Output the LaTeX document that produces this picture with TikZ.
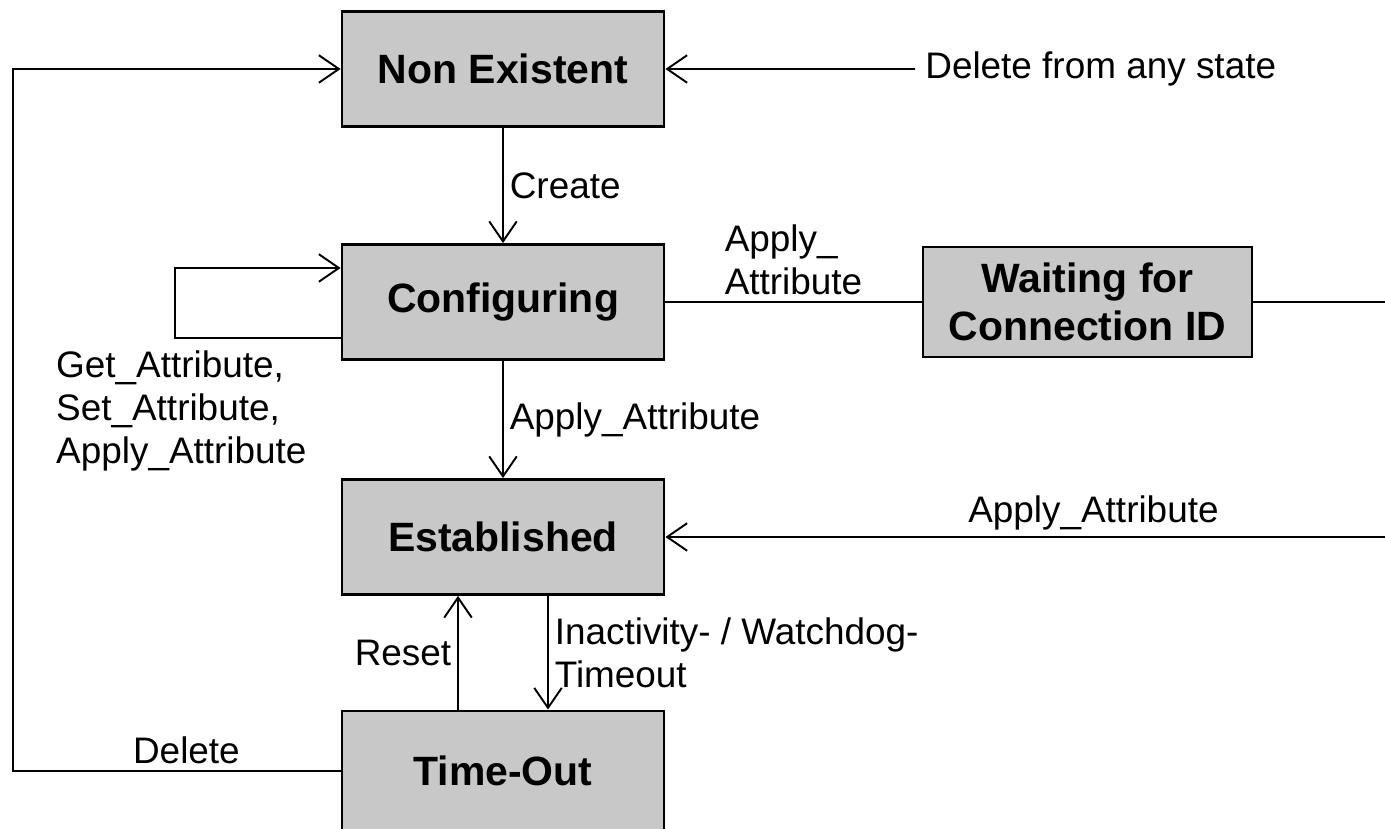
\documentclass[tikz,border=0pt]{standalone}
\usepackage{fontspec}
\setmainfont{Liberation Sans}
\usetikzlibrary{arrows.meta}

\definecolor{stategray}{RGB}{200,200,200}

\begin{document}
\begin{tikzpicture}[
    state/.style={rectangle, draw, fill=stategray, line width=1.6pt, minimum width=6.44cm, minimum height=2.3cm, align=center, font=\fontsize{23.3}{27.2}\selectfont\bfseries},
    trans/.style={line width=1.1pt},
    >={Straight Barb[length=4mm, width=5.5mm]},
    font=\fontsize{21}{24.5}\selectfont
]
    \useasboundingbox (0,0) rectangle (27.7,16.58);
    \clip (0,0) rectangle (27.7,16.58);

    \node[state] (nonex) at (10.06,15.2) {Non Existent};
    \node[state] (config) at (10.06,10.54) {Configuring};
    \node[state, minimum width=6.58cm, minimum height=2.2cm] (waiting) at (21.75,10.54) {Waiting for\\Connection ID};
    \node[state] (estab) at (10.06,5.84) {Established};
    \node[state, minimum height=2.4cm] (timeout) at (10.06,1.16) {Time-Out};

    \node[anchor=west, inner sep=2mm] (anystate) at (18.3,15.2) {Delete from any state};
    \node[anchor=north west, align=left] (looplabel) at (1.0,9.69) {Get\_Attribute,\\Set\_Attribute,\\Apply\_Attribute};

    \draw[trans, ->] (anystate) -- (nonex);
    \draw[trans, ->] (nonex) -- node[right] {Create} (config);
    \draw[trans, ->] ([yshift=-7.2mm]config.west) -- ++(-3.32,0) |- ([yshift=6.8mm]config.west);
    \draw[trans] (config) -- node[above, align=left] {Apply\_\\Attribute} (waiting);
    \draw[trans, ->] (config) -- node[right] {Apply\_Attribute} (estab);
    \draw[trans, ->] (waiting.east) -- ++(3,0) |- node[pos=0.71, above] {Apply\_Attribute} (estab.east);
    \draw[trans, ->] ([xshift=9mm]estab.south) -- node[right, align=left] {Inactivity- / Watchdog-\\Timeout} ([xshift=9mm]timeout.north);
    \draw[trans, ->] ([xshift=-9mm]timeout.north) -- node[left] {Reset} ([xshift=-9mm]estab.south);
    \draw[trans, ->] (timeout.west) -- node[above, pos=0.47] {Delete} ++(-6.56,0) |- (nonex.west);
\end{tikzpicture}
\end{document}
